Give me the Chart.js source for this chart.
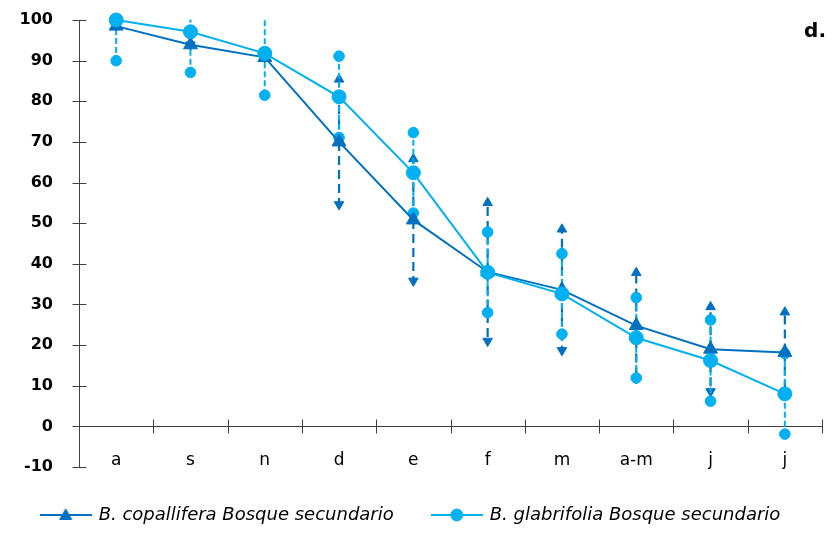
<!DOCTYPE html>
<html><head><meta charset="utf-8">
<script src="https://cdn.jsdelivr.net/npm/chart.js@4/dist/chart.umd.min.js"></script>
<style>html,body{margin:0;padding:0;background:#fff}#wrap{width:834px;height:540px}</style>
</head><body><div id="wrap"><canvas id="c" width="834" height="540"></canvas></div>
<script>
const categories = ['a', 's', 'n', 'd', 'e', 'f', 'm', 'a-m', 'j', 'j'];
const copalliferaMean = [98.5, 93.9, 90.8, 70.0, 50.8, 38.0, 33.6, 24.8, 19.0, 18.2];
const copalliferaErr = [0, 0, 0, 15.4, 15.0, 17.0, 14.9, 13.0, 10.4, 9.9];
const glabrifoliaMean = [100, 97.1, 91.8, 81.1, 62.4, 37.9, 32.6, 21.8, 16.2, 8.0];
const glabrifoliaErr = [10, 10, 10.3, 10, 9.9, 9.9, 9.9, 9.9, 10, 9.9];
const seriesNames = ['B. copallifera Bosque secundario', 'B. glabrifolia Bosque secundario'];
const yMin = -10, yMax = 100, yStep = 10;
const panelLabel = 'd.';

const DARK = '#0070C0', LIGHT = '#00B0F0', AXIS = '#404040';
const FAMILY = '"DejaVu Sans", sans-serif';

function makeIcon(color, style, r) {
  const c = document.createElement('canvas');
  c.width = 52; c.height = 18;
  const g = c.getContext('2d');
  g.strokeStyle = color; g.lineWidth = 2;
  g.beginPath(); g.moveTo(0, 9); g.lineTo(52, 9); g.stroke();
  g.fillStyle = color; g.lineWidth = 1;
  Chart.helpers.drawPoint(g, {pointStyle: style, radius: r, borderWidth: 1, rotation: 0}, 26, style === 'triangle' ? 10 : 9);
  return c;
}

const errSpecs = [
  {mean: copalliferaMean, err: copalliferaErr, color: DARK, dash: [9, 5], width: 2.2, cap: 'triangle', capR: 5.5},
  {mean: glabrifoliaMean, err: glabrifoliaErr, color: LIGHT, dash: [6, 3], width: 2, cap: 'circle', capR: 5.3}
];

const errorBars = {
  id: 'errorBars',
  beforeDatasetsDraw(chart) {
    const {ctx, chartArea, scales: {x, y}} = chart;
    ctx.save();
    ctx.beginPath();
    ctx.rect(chartArea.left, chartArea.top - 0.5, chartArea.right - chartArea.left, chartArea.bottom - chartArea.top + 1);
    ctx.clip();
    errSpecs.forEach(s => {
      s.mean.forEach((m, i) => {
        const px = x.getPixelForValue(i);
        const pm = y.getPixelForValue(m);
        const ph = y.getPixelForValue(m + s.err[i]);
        const pl = y.getPixelForValue(m - s.err[i]);
        ctx.strokeStyle = s.color; ctx.lineWidth = s.width; ctx.setLineDash(s.dash);
        ctx.beginPath(); ctx.moveTo(px, pm); ctx.lineTo(px, ph); ctx.stroke();
        ctx.beginPath(); ctx.moveTo(px, pm); ctx.lineTo(px, pl); ctx.stroke();
        ctx.setLineDash([]);
        ctx.fillStyle = s.color; ctx.lineWidth = 1;
        Chart.helpers.drawPoint(ctx, {pointStyle: s.cap, radius: s.capR, borderWidth: 1, rotation: 0}, px, ph);
        Chart.helpers.drawPoint(ctx, {pointStyle: s.cap, radius: s.capR, borderWidth: 1, rotation: 180}, px, pl);
      });
    });
    ctx.restore();
  }
};

const axisDecor = {
  id: 'axisDecor',
  beforeDatasetsDraw(chart) {
    const {ctx, chartArea, scales: {x, y}} = chart;
    const y0 = Math.round(y.getPixelForValue(0)) + 0.5;
    const xl = Math.round(x.left) + 0.5;
    ctx.save();
    ctx.strokeStyle = AXIS; ctx.lineWidth = 1;
    ctx.beginPath();
    ctx.moveTo(xl, Math.round(chartArea.top)); ctx.lineTo(xl, Math.round(chartArea.bottom) + 1);
    for (let i = 0; i <= categories.length; i++) {
      const px = Math.round(x.getPixelForValue(i - 0.5)) + 0.5;
      ctx.moveTo(px, y0 - 7); ctx.lineTo(px, y0 + 7);
    }
    y.ticks.forEach((t, i) => {
      const py = Math.round(y.getPixelForTick(i)) + 0.5;
      ctx.moveTo(xl - 7, py); ctx.lineTo(xl + 7, py);
    });
    ctx.stroke();
    ctx.restore();
  },
  afterDraw(chart) {
    const {ctx} = chart;
    ctx.save();
    ctx.fillStyle = '#000';
    ctx.font = 'bold 20px ' + FAMILY;
    ctx.textAlign = 'right';
    ctx.textBaseline = 'alphabetic';
    ctx.fillText(panelLabel, chart.width - 8, 37);
    ctx.restore();
  }
};

const icons = [makeIcon(DARK, 'triangle', 7), makeIcon(LIGHT, 'circle', 6)];

new Chart(document.getElementById('c'), {
  type: 'line',
  data: {
    labels: categories,
    datasets: [
      {label: seriesNames[0], data: copalliferaMean, borderColor: DARK, backgroundColor: DARK,
       borderWidth: 2, pointStyle: 'triangle', pointRadius: 8, pointHoverRadius: 8, pointBorderWidth: 1,
       tension: 0, clip: false, order: 1},
      {label: seriesNames[1], data: glabrifoliaMean, borderColor: LIGHT, backgroundColor: LIGHT,
       borderWidth: 2, pointStyle: 'circle', pointRadius: 7, pointHoverRadius: 7, pointBorderWidth: 1,
       tension: 0, clip: false, order: 0}
    ]
  },
  options: {
    responsive: false,
    animation: false,
    events: [],
    layout: {padding: {left: 0, right: 12, top: 20, bottom: 6}},
    scales: {
      x: {
        type: 'category',
        position: {y: 0},
        offset: true,
        grid: {display: false, drawTicks: false, offset: true},
        border: {display: true, color: AXIS, width: 1},
        ticks: {padding: 24, color: '#000', font: {family: FAMILY, size: 17}, maxRotation: 0, autoSkip: false}
      },
      y: {
        type: 'linear',
        position: 'left',
        min: yMin, max: yMax,
        grid: {display: false, drawTicks: false},
        border: {display: false},
        ticks: {stepSize: yStep, padding: 26, color: '#000', font: {family: FAMILY, size: 16, weight: 'bold'}},
        afterFit(scale) { scale.width = 79; scale.paddingTop = 10; scale.paddingBottom = 10; }
      }
    },
    plugins: {
      tooltip: {enabled: false},
      title: {display: false},
      legend: {
        position: 'bottom',
        labels: {
          usePointStyle: true, pointStyleWidth: 48, padding: 39, color: '#000',
          font: {family: FAMILY, size: 18, style: 'italic'},
          generateLabels(chart) {
            return chart.data.datasets.map((ds, i) => ({
              text: ds.label, pointStyle: icons[i], datasetIndex: i,
              fillStyle: ds.backgroundColor, strokeStyle: ds.borderColor, lineWidth: 0, hidden: false
            }));
          }
        }
      }
    }
  },
  plugins: [errorBars, axisDecor]
});
</script>
</body></html>
